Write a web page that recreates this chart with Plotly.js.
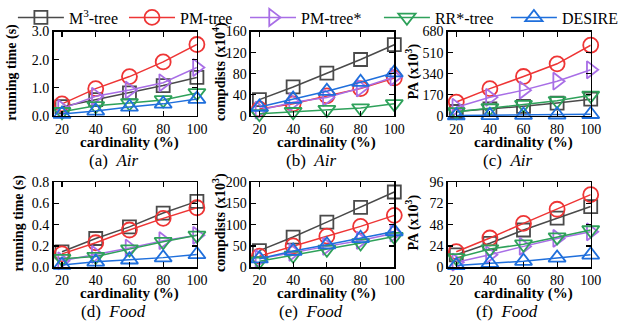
<!DOCTYPE html>
<html>
<head>
<meta charset="utf-8">
<script src="https://cdn.plot.ly/plotly-3.0.1.min.js"></script>
<style>html,body{margin:0;padding:0;background:#fff;}#chart{width:623px;height:331px;}</style>
</head>
<body>
<div id="chart"></div>
<script>
// ---- data ----
const cardinality = [20, 40, 60, 80, 100];
const xTicks = [20, 40, 60, 80, 100];

const seriesNames = ["M<sup>3</sup>-tree", "PM-tree", "PM-tree*", "RR*-tree", "DESIRE"];

// (a) Air running time (s)
const airTime_M3   = [0.33, 0.58, 0.82, 1.08, 1.37];
const airTime_PM   = [0.43, 0.97, 1.40, 1.92, 2.54];
const airTime_PMs  = [0.26, 0.70, 0.92, 1.18, 1.72];
const airTime_RR   = [0.15, 0.36, 0.46, 0.57, 0.82];
const airTime_DES  = [0.07, 0.18, 0.32, 0.43, 0.60];

// (b) Air compdists (x10^4)
const airComp_M3   = [31, 55, 81, 107, 135];
const airComp_PM   = [13, 23, 38, 52, 72];
const airComp_PMs  = [11, 26, 35, 53, 74];
const airComp_RR   = [4, 8, 12, 15, 23];
const airComp_DES  = [17, 32, 47, 64, 82];

// (c) Air PA (x10^3)
const airPA_M3     = [36, 56, 78, 104, 135];
const airPA_PM     = [112, 220, 318, 420, 570];
const airPA_PMs    = [70, 150, 208, 280, 372];
const airPA_RR     = [33, 64, 91, 122, 166];
const airPA_DES    = [3, 5, 8, 10, 14];

// (d) Food running time (s)
const foodTime_M3  = [0.145, 0.27, 0.38, 0.51, 0.62];
const foodTime_PM  = [0.125, 0.23, 0.35, 0.46, 0.56];
const foodTime_PMs = [0.06, 0.12, 0.18, 0.25, 0.30];
const foodTime_RR  = [0.08, 0.10, 0.17, 0.24, 0.30];
const foodTime_DES = [0.02, 0.05, 0.07, 0.09, 0.12];

// (e) Food compdists (x10^3)
const foodComp_M3  = [39, 71, 106, 141, 177];
const foodComp_PM  = [26, 50, 73, 96, 122];
const foodComp_PMs = [20, 35, 49, 63, 80];
const foodComp_RR  = [14, 28, 42, 57, 72];
const foodComp_DES = [20, 38, 53, 68, 84];

// (f) Food PA (x10^3)
const foodPA_M3    = [14, 27, 42, 55.5, 68.5];
const foodPA_PM    = [17.5, 33, 49.5, 65.5, 82];
const foodPA_PMs   = [5.6, 14, 23.5, 32.5, 40];
const foodPA_RR    = [10.5, 20.5, 26, 34, 42];
const foodPA_DES   = [2, 4.5, 6.8, 10.5, 14];

const panelTitles = ["running time (s)", "compdists (x10<sup>4</sup>)", "PA (x10<sup>3</sup>)",
                     "running time (s)", "compdists (x10<sup>3</sup>)", "PA (x10<sup>3</sup>)"];
const panelCaptions = ["(a)\u00a0 <i>Air</i>", "(b)\u00a0 <i>Air</i>", "(c)\u00a0 <i>Air</i>",
                       "(d)\u00a0 <i>Food</i>", "(e)\u00a0 <i>Food</i>", "(f)\u00a0 <i>Food</i>"];
const panelYMax = [3.0, 160, 680, 0.8, 200, 96];
const panelYDtick = [1.0, 40, 170, 0.2, 50, 24];
const panelYFormat = [".1f", "", "", ".1f", "", ""];

// ---- styling ----
const colors = ["#4a4a4a", "#ee3535", "#a86ee6", "#2ea15a", "#1f6fdc"];
const symbols = ["square-open", "circle-open", "triangle-right-open", "triangle-down-open", "triangle-up-open"];
const msizes = [13, 15, 15, 15, 15];
const FONT = "Liberation Serif";

const panels = [
  [airTime_M3, airTime_PM, airTime_PMs, airTime_RR, airTime_DES],
  [airComp_M3, airComp_PM, airComp_PMs, airComp_RR, airComp_DES],
  [airPA_M3, airPA_PM, airPA_PMs, airPA_RR, airPA_DES],
  [foodTime_M3, foodTime_PM, foodTime_PMs, foodTime_RR, foodTime_DES],
  [foodComp_M3, foodComp_PM, foodComp_PMs, foodComp_RR, foodComp_DES],
  [foodPA_M3, foodPA_PM, foodPA_PMs, foodPA_RR, foodPA_DES]
];

const W = 623, H = 331;
const colPx = [[54, 198.5], [253, 397.5], [451.5, 595.5]];
const rowPx = [[26, 112], [179.5, 266]];
const yTitleX = [[12, 222, 416], [19, 222, 416]];
const legendStartPx = [14, 126, 248, 383, 511];

const traces = [];
const layout = {
  width: W, height: H,
  margin: {l: 0, r: 0, t: 0, b: 0},
  paper_bgcolor: "#fff", plot_bgcolor: "#fff",
  font: {family: FONT, size: 14, color: "#000"},
  showlegend: true,
  annotations: []
};
legendStartPx.forEach((px, s) => {
  const key = s === 0 ? "legend" : "legend" + (s + 1);
  layout[key] = {orientation: "h", x: (px - 1) / W, y: 1.017, xanchor: "left", yanchor: "top",
                 font: {family: FONT, size: 16, color: "#000"}, itemwidth: 46,
                 bgcolor: "rgba(0,0,0,0)", borderwidth: 0};
});

panels.forEach((series, p) => {
  const col = p % 3, row = Math.floor(p / 3);
  const xa = "xaxis" + (p === 0 ? "" : p + 1);
  const ya = "yaxis" + (p === 0 ? "" : p + 1);
  const xr = "x" + (p === 0 ? "" : p + 1);
  const yr = "y" + (p === 0 ? "" : p + 1);
  const [x0, x1] = colPx[col];
  const [yt, yb] = rowPx[row];
  layout[xa] = {
    domain: [x0 / W, x1 / W], anchor: yr, range: [15, 100],
    tickvals: xTicks, ticktext: xTicks.map(String),
    ticks: "inside", ticklen: 5, tickwidth: 1.2, tickcolor: "#000",
    showline: true, linecolor: "#000", linewidth: 1.5, mirror: "allticks",
    showgrid: false, zeroline: false,
    tickfont: {family: FONT, size: 14, color: "#000"}
  };
  layout[ya] = {
    domain: [1 - yb / H, 1 - yt / H], anchor: xr, range: [0, panelYMax[p]],
    dtick: panelYDtick[p], tick0: 0, tickformat: panelYFormat[p],
    ticks: "inside", ticklen: 5, tickwidth: 1.2, tickcolor: "#000",
    showline: true, linecolor: "#000", linewidth: 1.5, mirror: "allticks",
    showgrid: false, zeroline: false,
    tickfont: {family: FONT, size: 14, color: "#000"}
  };
  series.forEach((vals, s) => {
    traces.push({
      type: "scatter", mode: "lines+markers",
      x: cardinality, y: vals, xaxis: xr, yaxis: yr,
      name: seriesNames[s], showlegend: p === 0, legendgroup: "g" + s,
      legend: s === 0 ? "legend" : "legend" + (s + 1),
      cliponaxis: false,
      line: {color: colors[s], width: 1.5},
      marker: {symbol: symbols[s], size: msizes[s], color: colors[s], line: {color: colors[s], width: 1.8}}
    });
  });
  const cx = (x0 + x1) / 2;
  layout.annotations.push({
    xref: "paper", yref: "paper", x: yTitleX[row][col] / W, y: 1 - ((yt + yb) / 2 - 2) / H,
    xanchor: "center", yanchor: "middle", textangle: -90, showarrow: false,
    text: "<b>" + panelTitles[p] + "</b>", font: {family: FONT, size: 14, color: "#000"}
  });
  layout.annotations.push({
    xref: "paper", yref: "paper", x: (cx + 4) / W, y: 1 - (yb + 27) / H,
    xanchor: "center", yanchor: "middle", showarrow: false,
    text: "<b>cardinality (%)</b>", font: {family: FONT, size: 15, color: "#000"}
  });
  layout.annotations.push({
    xref: "paper", yref: "paper", x: (cx - 12) / W, y: 1 - (yb + 45.5) / H,
    xanchor: "center", yanchor: "middle", showarrow: false,
    text: panelCaptions[p], font: {family: FONT, size: 17, color: "#000"}
  });
});

Plotly.newPlot("chart", traces, layout, {staticPlot: true, displayModeBar: false});
</script>
</body>
</html>
